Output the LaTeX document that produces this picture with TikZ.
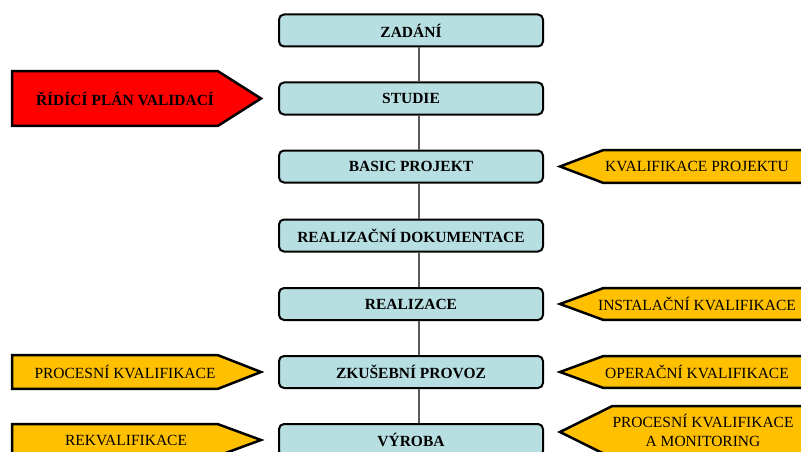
\documentclass[tikz,border=0pt]{standalone}
\usepackage{fontspec}
\setmainfont{Liberation Serif}
\definecolor{boxcyan}{RGB}{183,222,225}
\definecolor{linegray}{RGB}{90,90,90}
\definecolor{kvalyellow}{RGB}{255,192,0}
\definecolor{planred}{RGB}{255,0,0}
\begin{document}
\begin{tikzpicture}[x=1pt,y=-1pt,
  etapa/.style={draw=black,line width=2pt,rounded corners=5pt,fill=boxcyan,
    minimum width=264pt,minimum height=32pt,inner sep=0pt,
    font=\bfseries\fontsize{15.5}{18}\selectfont},
  spoj/.style={draw=linegray,line width=1.1pt},
  sipka/.style={draw=black,line width=2.5pt,line join=miter},
  popis/.style={font=\fontsize{15.5}{18}\selectfont,align=center,inner sep=0pt}]

\useasboundingbox (0,0) rectangle (801,452);
\clip (0,0) rectangle (801,452);

% stages
\node[etapa] (zadani) at (411,30.5) {ZADÁNÍ};
\node[etapa] (studie) at (411,98.5) {STUDIE};
\node[etapa] (basic) at (411,166.5) {BASIC PROJEKT};
\node[etapa] (dokum) at (411,235.5) {REALIZAČNÍ DOKUMENTACE};
\node[etapa] (realizace) at (411,304) {REALIZACE};
\node[etapa] (provoz) at (411,372) {ZKUŠEBNÍ PROVOZ};
\node[etapa] (vyroba) at (411,440) {VÝROBA};

\foreach \a/\b in {zadani/studie,studie/basic,basic/dokum,dokum/realizace,realizace/provoz,provoz/vyroba}
  \draw[spoj] ([xshift=8pt]\a.south) -- ([xshift=8pt]\b.north);

% left
\draw[sipka,fill=planred] (12,71.2) -- (218,71.2) -- (261,98.5) -- (218,125.8) -- (12,125.8) -- cycle;
\node[popis,font=\bfseries\fontsize{15.5}{18}\selectfont] (plan) at (125,99) {ŘÍDÍCÍ PLÁN VALIDACÍ};

\draw[sipka,fill=kvalyellow] (12,355.2) -- (218,355.2) -- (261,372) -- (218,388.8) -- (12,388.8) -- cycle;
\node[popis] (prockv) at (125,372) {PROCESNÍ KVALIFIKACE};

\draw[sipka,fill=kvalyellow] (12,424.2) -- (218,424.2) -- (261,440) -- (218,455.8) -- (12,455.8) -- cycle;
\node[popis] (rekval) at (126,440) {REKVALIFIKACE};

% right
\draw[sipka,fill=kvalyellow] (840,150.2) -- (603,150.2) -- (560,166.5) -- (603,182.8) -- (840,182.8) -- cycle;
\node[popis] (kvproj) at (697,166.5) {KVALIFIKACE PROJEKTU};

\draw[sipka,fill=kvalyellow] (840,288.2) -- (603,288.2) -- (560,304) -- (603,319.8) -- (840,319.8) -- cycle;
\node[popis] (instal) at (697,304) {INSTALAČNÍ KVALIFIKACE};

\draw[sipka,fill=kvalyellow] (840,356.2) -- (603,356.2) -- (560,372) -- (603,387.8) -- (840,387.8) -- cycle;
\node[popis] (operkv) at (697,372) {OPERAČNÍ KVALIFIKACE};

\draw[sipka,fill=kvalyellow] (840,406.2) -- (612,406.2) -- (560,432) -- (612,457.8) -- (840,457.8) -- cycle;
\node[popis,font=\fontsize{15.5}{19}\selectfont] (monit) at (703,430) {PROCESNÍ KVALIFIKACE\\A MONITORING};
\end{tikzpicture}
\end{document}
